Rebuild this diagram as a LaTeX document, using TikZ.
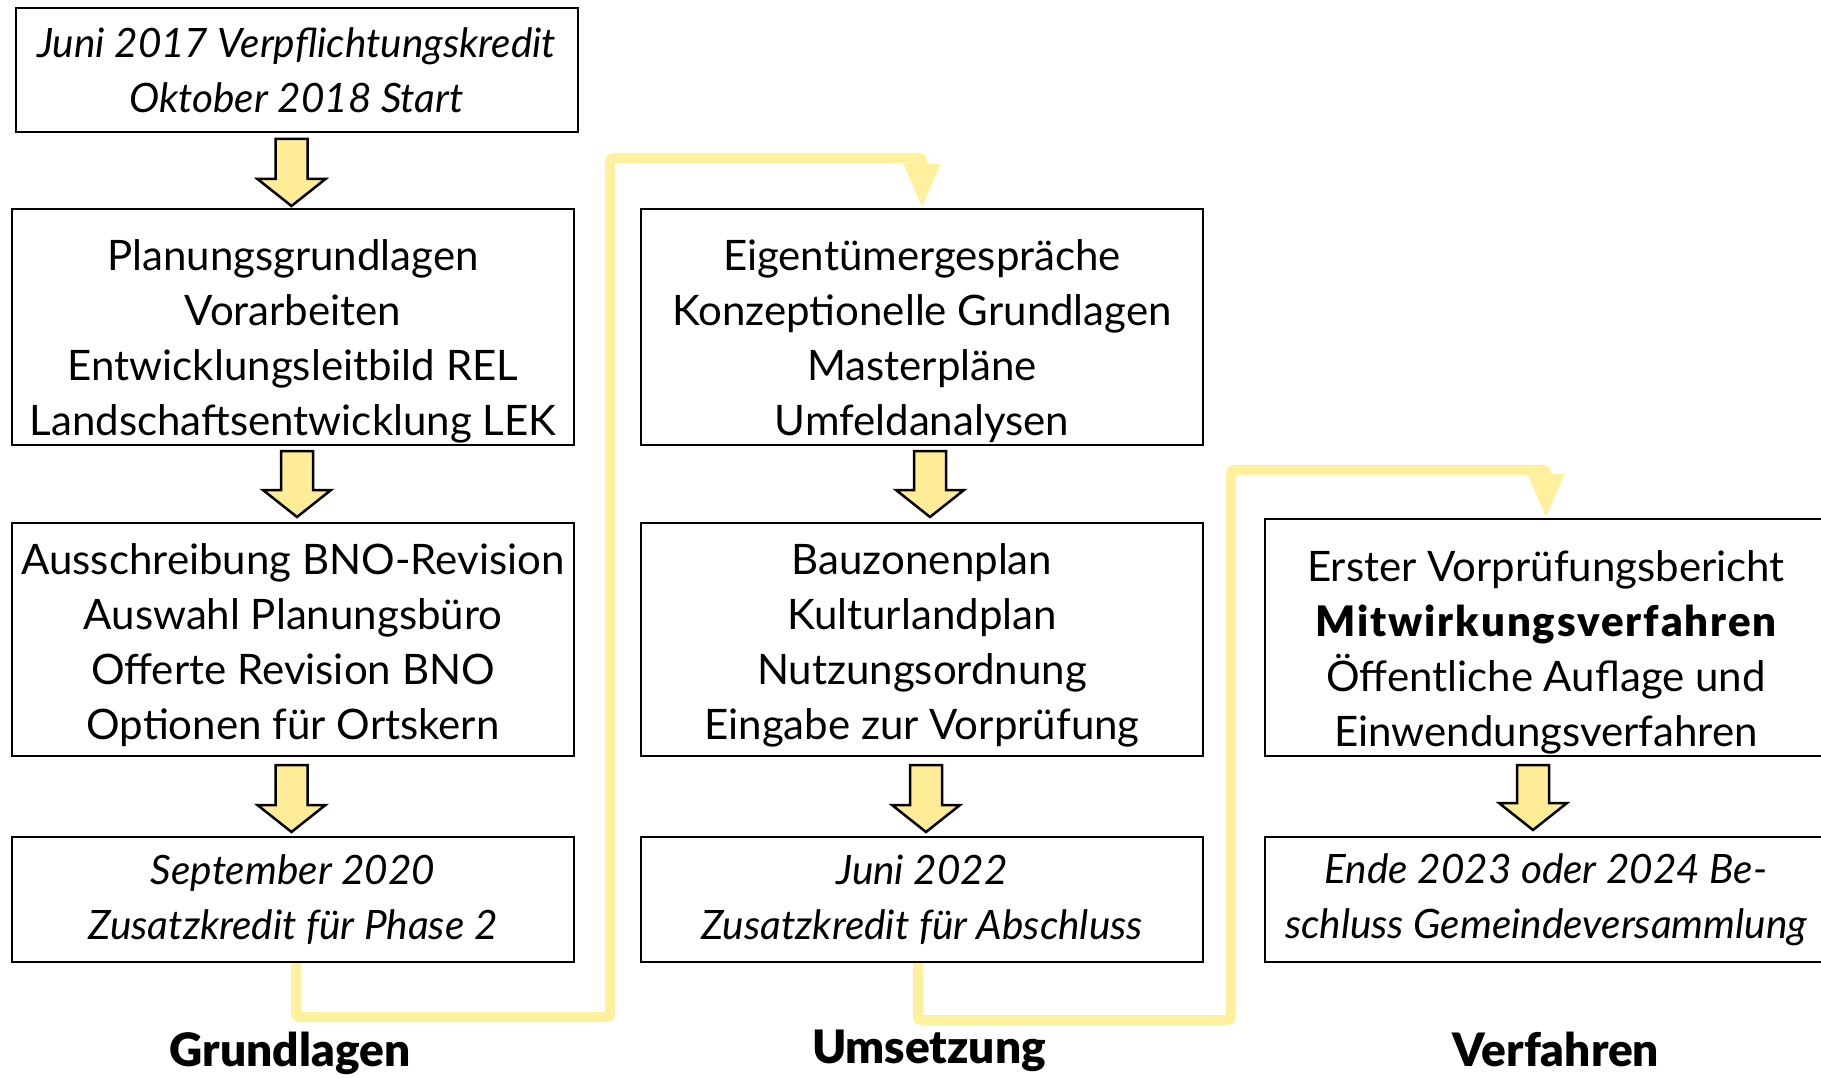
\documentclass[tikz,border=0pt]{standalone}
\usepackage{fontspec}
\setmainfont{Lato}
\newfontfamily\heavyfont{Lato Black}
\newfontfamily\heavywide{Lato Black}[LetterSpace=4.5]
\usetikzlibrary{arrows.meta}
\definecolor{ylw}{HTML}{FFEC96}
\definecolor{lineylw}{HTML}{FFF09E}
\newcommand\downblock[3]{%
  \draw[blockarrow] ({#1-16},#2) -- ({#1+16},#2) -- ({#1+16},{#3-27}) -- ({#1+34},{#3-27}) -- (#1,#3) -- ({#1-34},{#3-27}) -- ({#1-16},{#3-27}) -- cycle;}
\begin{document}
\begin{tikzpicture}[x=1pt,y=-1pt,
  box/.style={draw=black, line width=2pt, fill=white, minimum width=562pt, align=center, inner sep=0pt, font=\fontsize{42}{55}\selectfont},
  itbox/.style={box, font=\fontsize{40.5}{55}\selectfont\itshape},
  boxtext/.style={align=center, inner sep=0pt, font=\fontsize{42}{55}\selectfont},
  blockarrow/.style={draw=black, line width=2.5pt, fill=ylw, line join=miter},
  flow/.style={draw=lineylw, line width=10pt, rounded corners=3pt, -{Triangle[width=34pt,length=44pt]}},
  phase/.style={font=\fontsize{46}{52}\heavyfont, anchor=center}]
\useasboundingbox (0,0) rectangle (1821,1078);
\fill[white] (0,0) rectangle (1821,1078);

\coordinate (k1) at (610,1017);
\coordinate (k2) at (610,158);
\coordinate (k3) at (1231,1020);
\coordinate (k4) at (1231,470);

% column 1
\node[itbox, minimum height=124pt] (A) at (296.5,70) {Juni 2017 Verpflichtungskredit\\Oktober 2018 Start};
\node[box, minimum height=236pt] (B1) at (293,327) {};
\node[boxtext] (B1t) at ([yshift=-14pt]B1.center) {Planungsgrundlagen\\Vorarbeiten\\Entwicklungsleitbild REL\\Landschaftsentwicklung LEK};
\node[box, minimum height=233pt] (C1) at (293,639.5) {};
\node[boxtext] (C1t) at ([yshift=-6pt]C1.center) {Ausschreibung BNO-Revision\\Auswahl Planungsbüro\\Offerte Revision BNO\\Optionen für Ortskern};
\node[itbox, minimum height=125pt] (D1) at (293,899.5) {September 2020\\Zusatzkredit für Phase 2};

% column 2
\node[box, minimum height=236pt] (B2) at (922,327) {};
\node[boxtext] (B2t) at ([yshift=-14pt]B2.center) {Eigentümergespräche\\Konzeptionelle Grundlagen\\Masterpläne\\Umfeldanalysen};
\node[box, minimum height=233pt] (C2) at (922,639.5) {};
\node[boxtext] (C2t) at ([yshift=-6pt]C2.center) {Bauzonenplan\\Kulturlandplan\\Nutzungsordnung\\Eingabe zur Vorprüfung};
\node[itbox, minimum height=125pt] (D2) at (922,899.5) {Juni 2022\\Zusatzkredit für Abschluss};

% column 3
\node[box, minimum height=237pt] (C3) at (1546,637.5) {};
\node[boxtext] (C3t) at ([yshift=-15pt]C3.center) {Erster Vorprüfungsbericht\\{\heavywide Mitwirkungsverfahren}\\Öffentliche Auflage und\\Einwendungsverfahren};
\node[itbox, minimum height=125pt] (D3) at (1546,899.5) {Ende 2023 oder 2024 Be-\\schluss Gemeindeversammlung};

% yellow flow connectors
\draw[flow] ([xshift=3pt]D1.south) |- (k1) -- (k2) -| (B2.north);
\draw[flow] ([xshift=-4pt]D2.south) |- (k3) -- (k4) -| (C3.north);

% block arrows
\downblock{291.5}{139}{206}
\downblock{297}{451}{517}
\downblock{291.5}{765}{832}
\downblock{930}{451}{517}
\downblock{926}{765}{832}
\downblock{1533}{765}{830}

% phase labels
\node[phase] (L1) at (290,1053) {Grundlagen};
\node[phase] (L2) at (929,1051) {Umsetzung};
\node[phase] (L3) at (1556,1049) {Verfahren};
\end{tikzpicture}
\end{document}
